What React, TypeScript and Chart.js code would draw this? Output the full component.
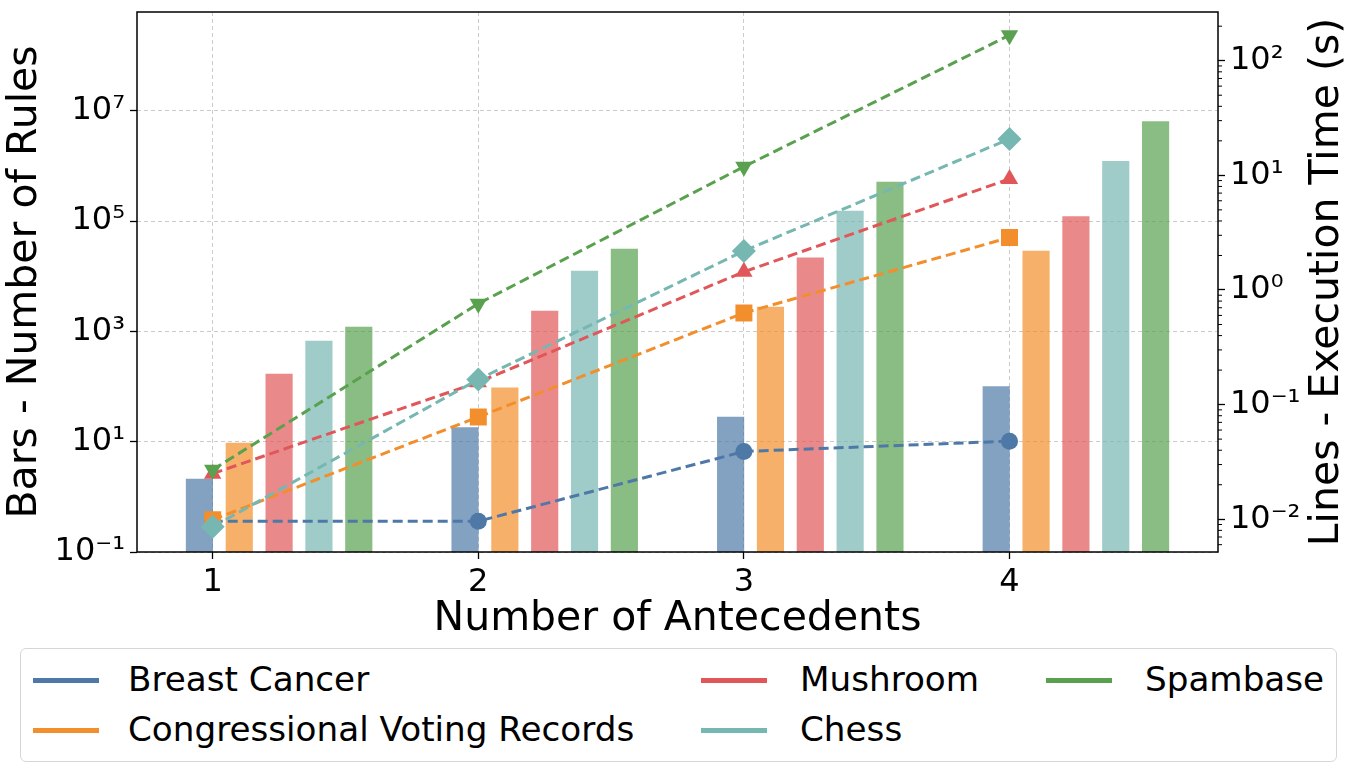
import React, { useEffect, useRef } from 'react';
import { Chart, registerables } from 'chart.js';

Chart.register(...registerables);

const W = 1353;
const H = 771;
const FONT = '"DejaVu Sans", "Liberation Sans", sans-serif';

// ---- data ----
const antecedents = [1, 2, 3, 4];
const seriesNames = ['Breast Cancer', 'Congressional Voting Records', 'Mushroom', 'Chess', 'Spambase'];
const seriesColors = ['#4e79a7', '#f28e2b', '#e15759', '#76b7b2', '#59a14f'];
const barColors = [
  'rgba(78,121,167,0.7)',
  'rgba(242,142,43,0.7)',
  'rgba(225,87,89,0.7)',
  'rgba(118,183,178,0.7)',
  'rgba(89,161,79,0.7)',
];

const rulesBreastCancer = [2.1, 18, 28, 100];
const rulesCongressional = [9.4, 95, 2750, 28500];
const rulesMushroom = [168, 2350, 21500, 121000];
const rulesChess = [665, 12400, 152000, 1220000];
const rulesSpambase = [1200, 31000, 513000, 6400000];

const timeBreastCancer = [0.0096, 0.0096, 0.039, 0.048];
const timeCongressional = [0.0099, 0.078, 0.63, 2.87];
const timeMushroom = [0.025, 0.157, 1.44, 9.3];
const timeChess = [0.0086, 0.166, 2.19, 20.8];
const timeSpambase = [0.027, 0.76, 11.9, 167];

const leftTickValues = [0.1, 10, 1000, 1e5, 1e7];
const leftTickLabels = ['10⁻¹', '10¹', '10³', '10⁵', '10⁷'];
const rightTickValues = [0.01, 0.1, 1, 10, 100];
const rightTickLabels = ['10⁻²', '10⁻¹', '10⁰', '10¹', '10²'];

const xLabel = 'Number of Antecedents';
const leftLabel = 'Bars - Number of Rules';
const rightLabel = 'Lines - Execution Time (s)';

// ---- styles ----
const markerStyles = ['circle', 'rect', 'triangle', 'rectRot', 'triangle'];
const markerRotations = [0, 0, 0, 0, 180];
const markerRadii = [8.5, 12, 10, 12, 10];
const barWidthUnits = 0.1;
const barStepUnits = 0.15;

const rulesSeries = [rulesBreastCancer, rulesCongressional, rulesMushroom, rulesChess, rulesSpambase];
const timeSeries = [timeBreastCancer, timeCongressional, timeMushroom, timeChess, timeSpambase];

const decorPlugin = {
  id: 'decor',
  afterDatasetsDraw(chart: any) {
    const { ctx, chartArea } = chart;
    ctx.save();
    ctx.strokeStyle = '#000';
    ctx.lineWidth = 1.5;
    ctx.strokeRect(chartArea.left, chartArea.top, chartArea.right - chartArea.left, chartArea.bottom - chartArea.top);
    // minor ticks on right axis
    const y1 = chart.scales.y1;
    ctx.lineWidth = 1;
    for (let d = -3; d <= 3; d++) {
      for (let k = 2; k <= 9; k++) {
        const v = k * Math.pow(10, d);
        if (v < y1.min || v > y1.max) continue;
        const py = y1.getPixelForValue(v);
        ctx.beginPath();
        ctx.moveTo(chartArea.right, py);
        ctx.lineTo(chartArea.right + 4, py);
        ctx.stroke();
      }
    }
    ctx.restore();
  },
  afterDraw(chart: any) {
    const { ctx, chartArea } = chart;
    ctx.save();
    ctx.fillStyle = '#000';
    ctx.font = `41px ${FONT}`;
    ctx.textAlign = 'center';
    ctx.textBaseline = 'middle';
    const midY = (chartArea.top + chartArea.bottom) / 2;
    ctx.fillText(xLabel, (chartArea.left + chartArea.right) / 2, 619);
    ctx.save();
    ctx.translate(25, midY);
    ctx.rotate(-Math.PI / 2);
    ctx.fillText(leftLabel, 0, 0);
    ctx.restore();
    ctx.save();
    ctx.translate(1327, midY);
    ctx.rotate(-Math.PI / 2);
    ctx.fillText(rightLabel, 0, 0);
    ctx.restore();
    ctx.restore();
  },
};

function Legend() {
  const cols = [
    { handle: 32, text: 127 },
    { handle: 700, text: 799 },
    { handle: 1045, text: 1144 },
  ];
  const rows = [679, 729];
  // column-major order, 3 columns
  const placement = [
    [0, 0],
    [0, 1],
    [1, 0],
    [1, 1],
    [2, 0],
  ];
  return (
    <div
      style={{
        position: 'absolute',
        left: 20,
        top: 648,
        width: 1317,
        height: 114,
        boxSizing: 'border-box',
        border: '1.5px solid #d6d6d6',
        borderRadius: 6,
        background: '#fff',
      }}
    >
      {seriesNames.map((name, i) => {
        const [c, r] = placement[i];
        const cy = rows[r] - 648;
        return (
          <React.Fragment key={name}>
            <div
              style={{
                position: 'absolute',
                left: cols[c].handle - 20,
                top: cy - 2.5,
                width: 66,
                height: 5,
                background: seriesColors[i],
              }}
            />
            <div
              style={{
                position: 'absolute',
                left: cols[c].text - 20,
                top: cy - 23,
                height: 44,
                lineHeight: '44px',
                fontFamily: FONT,
                fontSize: 34.2,
                color: '#000',
                whiteSpace: 'nowrap',
              }}
            >
              {name}
            </div>
          </React.Fragment>
        );
      })}
    </div>
  );
}

export default function App() {
  const canvasRef = useRef<HTMLCanvasElement | null>(null);

  useEffect(() => {
    const canvas = canvasRef.current;
    if (!canvas) return;

    const barDatasets = rulesSeries.map((vals, i) => ({
      type: 'bar' as const,
      label: seriesNames[i] + ' (rules)',
      data: antecedents.map((a, j) => ({ x: a - barWidthUnits / 2 + i * barStepUnits, y: vals[j] })),
      backgroundColor: barColors[i],
      borderWidth: 0,
      barThickness: 26.5,
      grouped: false,
      yAxisID: 'y',
      xAxisID: 'x',
      order: 10,
    }));

    // later series drawn on top (lower order = drawn later)
    const lineDatasets = timeSeries.map((vals, i) => ({
      type: 'line' as const,
      label: seriesNames[i],
      data: antecedents.map((a, j) => ({ x: a, y: vals[j] })),
      borderColor: seriesColors[i],
      backgroundColor: seriesColors[i],
      borderWidth: 3,
      borderDash: [10, 5],
      pointStyle: markerStyles[i],
      rotation: markerRotations[i],
      pointRadius: markerRadii[i],
      pointBorderWidth: 0,
      pointBackgroundColor: seriesColors[i],
      fill: false,
      tension: 0,
      yAxisID: 'y1',
      xAxisID: 'x',
      order: 5 - i,
    }));

    const tickFont = { family: FONT, size: 32 };

    const chart = new Chart(canvas, {
      data: { datasets: [...lineDatasets, ...barDatasets] as any },
      options: {
        responsive: false,
        animation: false,
        layout: { padding: { top: 12, bottom: 119, left: 0, right: 0 } },
        plugins: { legend: { display: false }, tooltip: { enabled: false } },
        scales: {
          x: {
            type: 'linear',
            offset: false,
            min: 0.715,
            max: 4.785,
            afterBuildTicks: (scale: any) => {
              scale.ticks = antecedents.map((v) => ({ value: v }));
            },
            afterFit: (scale: any) => {
              scale.height = 100;
              scale.paddingLeft = 0;
              scale.paddingRight = 0;
            },
            ticks: {
              font: tickFont,
              color: '#000',
              padding: 4,
              autoSkip: false,
              maxRotation: 0,
              callback: (v: any) => String(v),
            },
            grid: {
              offset: false,
              color: 'rgba(190,190,190,0.8)',
              lineWidth: 1,
              drawTicks: true,
              tickLength: 7,
              tickColor: '#000',
              tickWidth: 1.3,
            },
            border: { display: false, dash: [4, 3] },
          },
          y: {
            type: 'logarithmic',
            position: 'left',
            min: 0.1,
            max: 6.2e8,
            afterBuildTicks: (scale: any) => {
              scale.ticks = leftTickValues.map((v) => ({ value: v }));
            },
            afterFit: (scale: any) => {
              scale.width = 137;
              scale.paddingTop = 0;
              scale.paddingBottom = 0;
            },
            ticks: {
              font: tickFont,
              color: '#000',
              padding: 5,
              autoSkip: false,
              callback: (_v: any, idx: number) => leftTickLabels[idx],
            },
            grid: {
              color: 'rgba(190,190,190,0.8)',
              lineWidth: 1,
              drawTicks: true,
              tickLength: 7,
              tickColor: '#000',
              tickWidth: 1.3,
            },
            border: { display: false, dash: [4, 3] },
          },
          y1: {
            type: 'logarithmic',
            position: 'right',
            min: 0.00518,
            max: 266,
            afterBuildTicks: (scale: any) => {
              scale.ticks = rightTickValues.map((v) => ({ value: v }));
            },
            afterFit: (scale: any) => {
              scale.width = W - 1218;
              scale.paddingTop = 0;
              scale.paddingBottom = 0;
            },
            ticks: {
              font: tickFont,
              color: '#000',
              padding: 5,
              autoSkip: false,
              callback: (_v: any, idx: number) => rightTickLabels[idx],
            },
            grid: {
              drawOnChartArea: false,
              drawTicks: true,
              tickLength: 7,
              tickColor: '#000',
              tickWidth: 1.3,
            },
            border: { display: false },
          },
        },
      } as any,
      plugins: [decorPlugin],
    });

    return () => {
      chart.destroy();
    };
  }, []);

  return (
    <div style={{ position: 'fixed', left: 0, top: 0, width: W, height: H, background: '#fff' }}>
      <canvas ref={canvasRef} width={W} height={H} style={{ position: 'absolute', left: 0, top: 0, width: W, height: H }} />
      <Legend />
    </div>
  );
}
